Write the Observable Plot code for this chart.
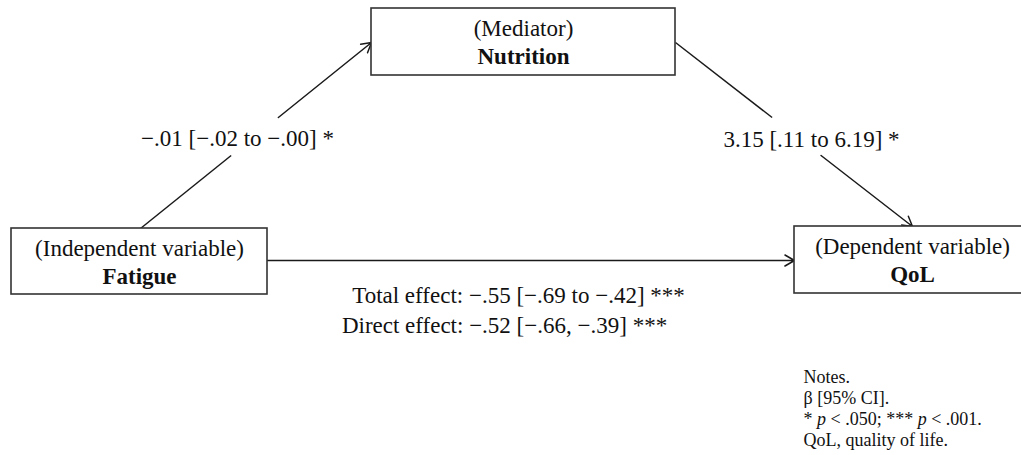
<!DOCTYPE html>
<html>
<head>
<meta charset="utf-8">
<script src="https://cdn.jsdelivr.net/npm/d3@7"></script>
<script src="https://cdn.jsdelivr.net/npm/@observablehq/plot@0.6"></script>
<style>
  html, body { margin: 0; padding: 0; background: #fff; }
  #chart svg { display: block; }
</style>
</head>
<body>
<div id="chart"></div>
<script>
// ---- Data ----
const roles = ["(Independent variable)", "(Mediator)", "(Dependent variable)"];
const variables = ["Fatigue", "Nutrition", "QoL"];
const pathLabels = ["\u2212.01 [\u2212.02 to \u2212.00] *", "3.15 [.11 to 6.19] *"];
const effectLabels = ["Total effect: \u2212.55 [\u2212.69 to \u2212.42] ***", "Direct effect: \u2212.52 [\u2212.66, \u2212.39] ***"];
const notes = ["Notes.", "\u03b2 [95% CI].", "* p < .050; *** p < .001.", "QoL, quality of life."];

// ---- Layout (diagram geometry, pixels) ----
const boxGeom = [
  {x1: 11, x2: 267, y1: 228, y2: 294, cx: 139},
  {x1: 371, x2: 675, y1: 8, y2: 75, cx: 523},
  {x1: 794, x2: 1032, y1: 226, y2: 293, cx: 912}
];
const pathGeom = [
  {xs: 140, ys: 228, xe: 371, ye: 42, gapTop: 117, gapBottom: 155, lx: 237, ly: 145},
  {xs: 675, ys: 42, xe: 912, ye: 226, gapTop: 117, gapBottom: 155, lx: 811, ly: 146}
];
const directGeom = {xs: 267, ys: 260, xe: 794, ye: 260};
const effectGeom = [{x: 518, y: 302}, {x: 504, y: 332}];
const notesGeom = {x: 803, y0: 382, step: 21};

const FONT = "'Liberation Serif', 'Times New Roman', Times, serif";
const INK = "#111";
const BASE = 0.32; // Plot's middle line anchor offset (em)

const nodes = variables.map((v, i) => ({role: roles[i], name: v, ...boxGeom[i]}));

// split each path line at its label gap
function atY(p, y) { return p.xs + (p.xe - p.xs) * (y - p.ys) / (p.ye - p.ys); }
const lowerSegs = [], upperSegs = [];
pathGeom.forEach(p => {
  const yNearStart = p.ys > p.ye ? p.gapBottom : p.gapTop;
  const yNearEnd = p.ys > p.ye ? p.gapTop : p.gapBottom;
  lowerSegs.push({x1: p.xs, y1: p.ys, x2: atY(p, yNearStart), y2: yNearStart});
  upperSegs.push({x1: atY(p, yNearEnd), y1: yNearEnd, x2: p.xe, y2: p.ye});
});
const pathTable = pathLabels.map((t, i) => ({text: t, x: pathGeom[i].lx, y: pathGeom[i].ly - BASE * 23}));
const effectTable = effectLabels.map((t, i) => ({text: t, x: effectGeom[i].x, y: effectGeom[i].y - BASE * 23}));
const notesTable = notes.map((t, i) => ({text: t, x: notesGeom.x, y: notesGeom.y0 + i * notesGeom.step - BASE * 18}));

const chart = Plot.plot({
  width: 1021,
  height: 455,
  margin: 0,
  x: {domain: [0, 1021], range: [0, 1021], axis: null},
  y: {domain: [0, 455], range: [0, 455], axis: null},
  style: {background: "#fff", fontFamily: FONT},
  marks: [
    Plot.link(lowerSegs, {x1: "x1", y1: "y1", x2: "x2", y2: "y2", stroke: "#1a1a1a", strokeWidth: 1.5}),
    Plot.arrow(upperSegs, {x1: "x1", y1: "y1", x2: "x2", y2: "y2", stroke: "#1a1a1a", strokeWidth: 1.5, headLength: 11, headAngle: 60}),
    Plot.arrow([directGeom], {x1: "xs", y1: "ys", x2: "xe", y2: "ye", stroke: "#1a1a1a", strokeWidth: 1.5, headLength: 11, headAngle: 60}),
    Plot.rect(nodes, {x1: "x1", x2: "x2", y1: "y1", y2: "y2", fill: "#fff", stroke: "#333", strokeWidth: 1.6, clip: true}),
    Plot.text(nodes, {x: "cx", y: d => d.y1 + 27 - BASE * 23, text: "role", fontSize: 23, fontFamily: FONT, fill: INK}),
    Plot.text(nodes, {x: "cx", y: d => d.y1 + 55 - BASE * 23, text: "name", fontSize: 23, fontWeight: "bold", fontFamily: FONT, fill: INK}),
    Plot.text(pathTable, {x: "x", y: "y", text: "text", fontSize: 23, fontFamily: FONT, fill: INK}),
    Plot.text(effectTable, {x: "x", y: "y", text: "text", fontSize: 23, fontFamily: FONT, fill: INK}),
    Plot.text(notesTable, {x: "x", y: "y", text: "text", fontSize: 18, fontFamily: FONT, fill: INK, textAnchor: "start"})
  ]
});

// italicise the "p" in the significance note
chart.querySelectorAll("text").forEach(t => {
  if (t.textContent === notes[2]) {
    const parts = t.textContent.split(/(\bp\b)/);
    t.textContent = "";
    parts.forEach(s => {
      const ts = document.createElementNS("http://www.w3.org/2000/svg", "tspan");
      ts.textContent = s;
      if (s === "p") ts.setAttribute("font-style", "italic");
      t.appendChild(ts);
    });
  }
});

document.getElementById("chart").appendChild(chart);
</script>
</body>
</html>
